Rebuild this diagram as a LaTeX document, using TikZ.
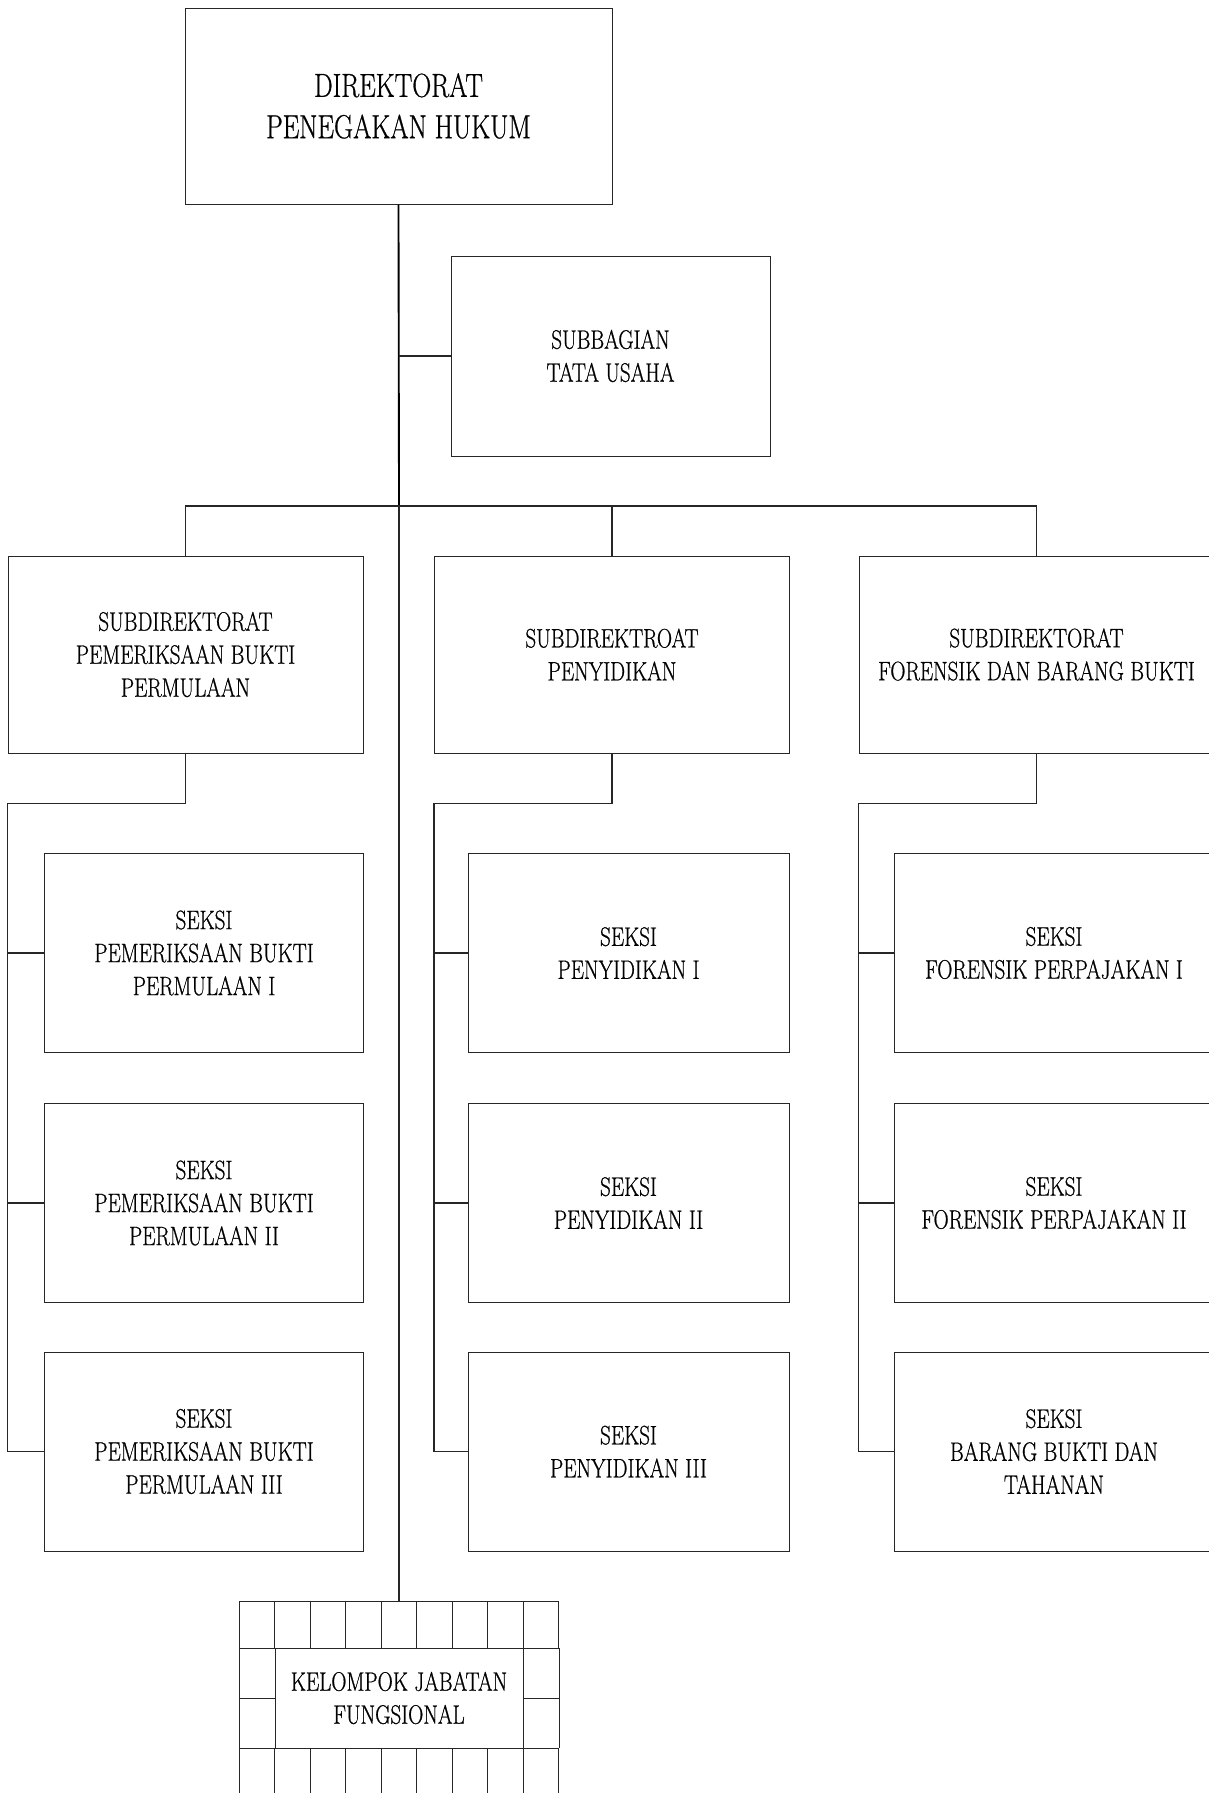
\documentclass[tikz,border=0pt]{standalone}
\usepackage{fontspec}
\setmainfont[FakeStretch=0.79,FakeBold=0.7]{Latin Modern Roman}
\usetikzlibrary{calc}
\begin{document}
\begin{tikzpicture}[x=0.75pt,y=-0.75pt,
  unit/.style={draw=black!85, line width=0.75pt, rectangle, inner sep=0pt,
    align=center, font=\fontsize{20}{24.75}\selectfont},
  headbox/.style={unit, font=\fontsize{25}{31}\selectfont},
  link/.style={draw=black!85, line width=0.8pt},
  mainlink/.style={draw=black, line width=1.4pt},
  gridline/.style={draw=black!85, line width=0.75pt}]
\useasboundingbox (0,0) rectangle (1209,1793);

% director and secretariat
\node[headbox, minimum width=427*0.75pt, minimum height=196*0.75pt] (dir) at (398.5,106)
  {DIREKTORAT\\PENEGAKAN HUKUM};
\node[unit, minimum width=319*0.75pt, minimum height=200*0.75pt] (tu) at (610.5,356)
  {SUBBAGIAN\\TATA USAHA};

% sub-directorates
\node[unit, minimum width=355*0.75pt, minimum height=197*0.75pt] (sdA) at (185.5,654.5)
  {SUBDIREKTORAT\\PEMERIKSAAN BUKTI\\PERMULAAN};
\node[unit, minimum width=355*0.75pt, minimum height=197*0.75pt] (sdB) at (612,654.5)
  {SUBDIREKTROAT\\PENYIDIKAN};
\node[unit, minimum width=355*0.75pt, minimum height=197*0.75pt] (sdC) at (1036.5,654.5)
  {SUBDIREKTORAT\\FORENSIK DAN BARANG BUKTI};

% sections
\foreach \nm/\cx in {A/204,B/628.5,C/1054}{
  \foreach \k/\cy in {1/953,2/1203,3/1451.5}{
    \coordinate (pos\nm\k) at (\cx,\cy);
  }
}
\node[unit, minimum width=319*0.75pt, minimum height=199*0.75pt] (sA1) at (posA1)
  {SEKSI\\PEMERIKSAAN BUKTI\\PERMULAAN I};
\node[unit, minimum width=319*0.75pt, minimum height=199*0.75pt] (sA2) at (posA2)
  {SEKSI\\PEMERIKSAAN BUKTI\\PERMULAAN II};
\node[unit, minimum width=319*0.75pt, minimum height=199*0.75pt] (sA3) at (posA3)
  {SEKSI\\PEMERIKSAAN BUKTI\\PERMULAAN III};
\node[unit, minimum width=321*0.75pt, minimum height=199*0.75pt] (sB1) at (posB1)
  {SEKSI\\PENYIDIKAN I};
\node[unit, minimum width=321*0.75pt, minimum height=199*0.75pt] (sB2) at (posB2)
  {SEKSI\\PENYIDIKAN II};
\node[unit, minimum width=321*0.75pt, minimum height=199*0.75pt] (sB3) at (posB3)
  {SEKSI\\PENYIDIKAN III};
\node[unit, minimum width=320*0.75pt, minimum height=199*0.75pt] (sC1) at (posC1)
  {SEKSI\\FORENSIK PERPAJAKAN I};
\node[unit, minimum width=320*0.75pt, minimum height=199*0.75pt] (sC2) at (posC2)
  {SEKSI\\FORENSIK PERPAJAKAN II};
\node[unit, minimum width=320*0.75pt, minimum height=199*0.75pt] (sC3) at (posC3)
  {SEKSI\\BARANG BUKTI DAN\\TAHANAN};

% functional group (framed by a ring of cells)
\node[unit, minimum width=248*0.75pt, minimum height=100*0.75pt] (kjf) at (399,1698)
  {KELOMPOK JABATAN\\FUNGSIONAL};
\coordinate (kjftop) at (399,1601);
\foreach \i in {0,...,9}{
  \draw[gridline] (239+35.5*\i,1601) -- (239+35.5*\i,1648);
  \draw[gridline] (239+35.5*\i,1748) -- (239+35.5*\i,1800);
}
\draw[gridline] (239,1601) -- (559,1601);
\draw[gridline] (239,1648) -- (559,1648);
\draw[gridline] (239,1748) -- (559,1748);
\draw[gridline] (239,1648) -- (239,1748);
\draw[gridline] (559,1648) -- (559,1748);
\draw[gridline] (239,1698) -- (kjf.west |- 0,1698);
\draw[gridline] (kjf.east |- 0,1698) -- (559,1698);

% trunk and bus
\coordinate (bus) at (399,506);
\draw[mainlink] (dir.south) -- (bus);
\draw[link] (bus) -- (kjftop);
\draw[link] (tu.west) -- (tu.west -| bus);
\draw[link] (sdA.north) -- (sdA.north |- bus) -- (sdC.north |- bus) -- (sdC.north);
\draw[link] (sdB.north |- bus) -- (sdB.north);

% section feeders
\foreach \nm in {A,B,C}{
  \coordinate (bend\nm) at ($(sd\nm.south)+(0,50)$);
  \draw[link] (sd\nm.south) -- (bend\nm) -- (bend\nm -| sd\nm.west)
    -- (s\nm3.west -| sd\nm.west) -- (s\nm3.west);
  \draw[link] (s\nm1.west -| sd\nm.west) -- (s\nm1.west);
  \draw[link] (s\nm2.west -| sd\nm.west) -- (s\nm2.west);
}
\end{tikzpicture}
\end{document}
